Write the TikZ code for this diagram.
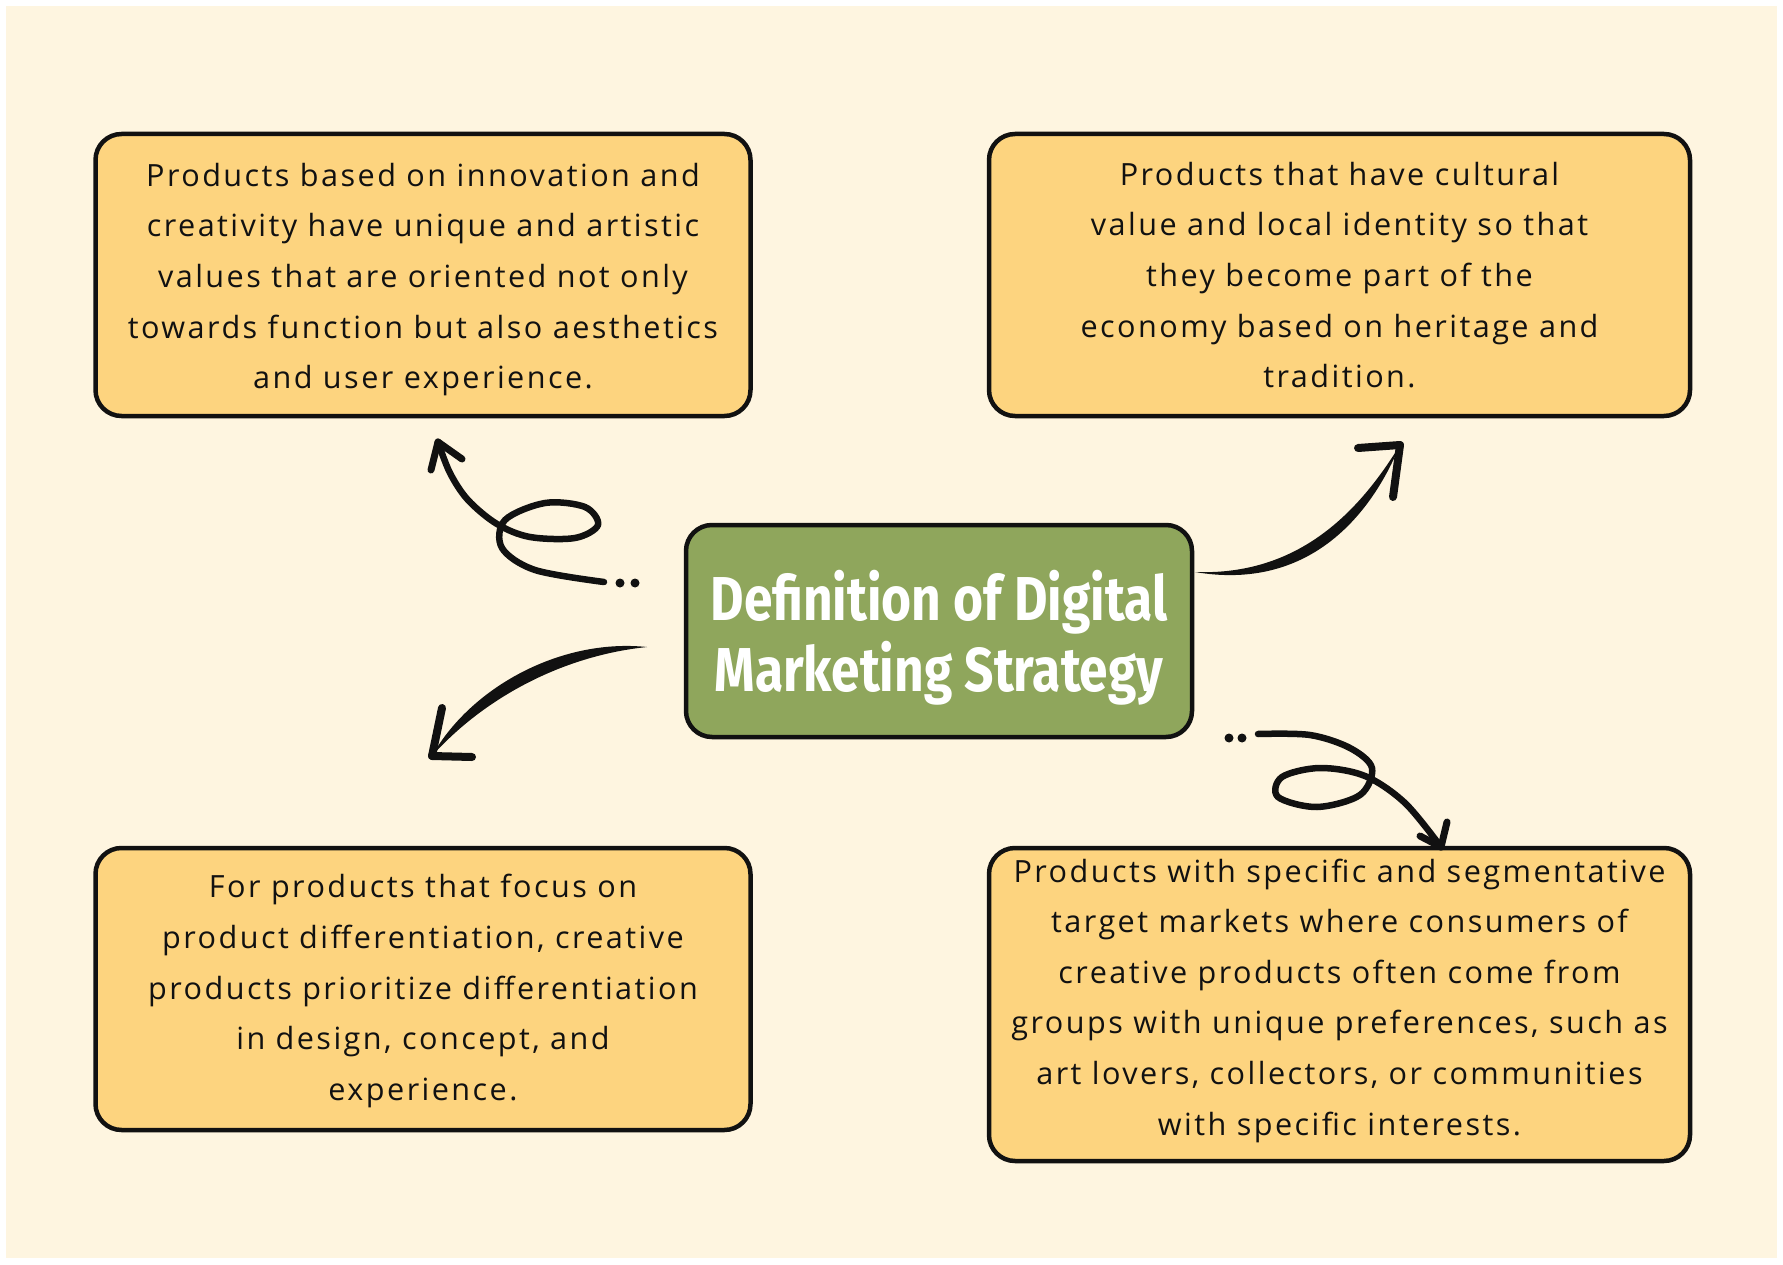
\documentclass[tikz,border=0pt]{standalone}
\usepackage{fontspec}
\setmainfont[LetterSpace=8]{Open Sans}
\newfontfamily\titlefont[FakeStretch=0.83]{Fira Sans}
\definecolor{bgc}{HTML}{FEF5E0}
\definecolor{boxc}{HTML}{FDD47F}
\definecolor{greenc}{HTML}{8FA65C}
\definecolor{inkc}{HTML}{111111}
\tikzset{
  infobox/.style={draw=inkc, line width=4.5pt, fill=boxc, rounded corners=26pt,
    align=center, inner sep=0pt, text=inkc,
    font=\fontsize{30.6}{50.6}\selectfont},
  centerbox/.style={draw=inkc, line width=4.5pt, fill=greenc, rounded corners=26pt,
    align=center, inner sep=0pt, text=white,
    font=\titlefont\bfseries\fontsize{62}{71}\selectfont},
  curvy/.style={draw=inkc, line width=6.5pt, line cap=round, line join=round},
  headstroke/.style={draw=inkc, line width=7pt, line cap=round},
  brush/.style={fill=inkc},
  dotmark/.style={fill=inkc}
}
\begin{document}
\begin{tikzpicture}[x=1pt,y=-1pt]
\useasboundingbox (0,0) rectangle (1783,1265);
\fill[white] (0,0) rectangle (1783,1265);
\fill[bgc] (6,6) rectangle (1777,1258);

\node[infobox, minimum width=655pt, minimum height=282pt] (tl) at (423,275)
  {\rule{0pt}{40pt}Products based on innovation and\\creativity have unique and artistic\\values that are oriented not only\\towards function but also aesthetics\\and user experience.\strut};
\node[infobox, minimum width=701pt, minimum height=282pt] (tr) at (1339.5,275)
  {\rule{0pt}{38pt}Products that have cultural\\value and local identity so that\\they become part of the\\economy based on heritage and\\tradition.\strut};
\node[infobox, minimum width=655pt, minimum height=282pt] (bl) at (423,989)
  {\strut For products that focus on\\product differentiation, creative\\products prioritize differentiation\\in design, concept, and\\experience.\strut};
\node[infobox, minimum width=701pt, minimum height=313pt] (br) at (1339.5,1004.5)
  {\rule{0pt}{27.5pt}Products with specific and segmentative\\target markets where consumers of\\creative products often come from\\groups with unique preferences, such as\\art lovers, collectors, or communities\\with specific interests.\rule[-19.5pt]{0pt}{0pt}};
\node[centerbox, minimum width=506pt, minimum height=212pt] (ctr) at (939,631)
  {\rule{0pt}{64pt}Definition of Digital\\Marketing Strategy};

% arrow 1 (to top-left), looped
\coordinate (a1s) at (604,582);
\coordinate (a1t) at (438,442);
\draw[curvy] plot[smooth, tension=0.55] coordinates {(a1s) (535,570) (502,548) (505,520) (545,503) (585,507) (598,525) (575,538) (530,537) (497,524) (468,500) (450,473) (a1t)};
\draw[headstroke] (a1t) -- (431,470);
\draw[headstroke] (a1t) -- (462,459);
\fill[dotmark] (620,583) circle (4.5);
\fill[dotmark] (635,583) circle (4.5);

% arrow 2 (to bottom-left), brush
\coordinate (a2s) at (647,647);
\coordinate (a2t) at (432,756);
\fill[brush] (a2s) .. controls (560,638) and (470,688) .. (a2t)
  .. controls (482,700) and (560,656) .. (a2s);
\draw[headstroke, line width=8pt] (a2t) -- (442,708);
\draw[headstroke, line width=8pt] (a2t) -- (472,757);

% arrow 3 (to top-right), brush
\coordinate (a3s) at (1195,572);
\coordinate (a3t) at (1400,445);
\fill[brush] (a3s) .. controls (1300,576) and (1360,510) .. (a3t)
  .. controls (1366,527) and (1300,590) .. (a3s);
\draw[headstroke, line width=8pt] (a3t) -- (1358,448);
\draw[headstroke, line width=8pt] (a3t) -- (1393,497);

% arrow 4 (to bottom-right), looped
\coordinate (a4s) at (1258,734);
\coordinate (a4t) at (1441,847);
\draw[curvy] plot[smooth, tension=0.55] coordinates {(a4s) (1310,735) (1350,748) (1372,768) (1360,795) (1317,807) (1278,797) (1282,777) (1320,768) (1365,776) (1405,803) (a4t)};
\draw[headstroke] (a4t) -- (1420,836);
\draw[headstroke] (a4t) -- (1447,822);
\fill[dotmark] (1229,738) circle (4.5);
\fill[dotmark] (1242,738) circle (4.5);
\end{tikzpicture}
\end{document}
